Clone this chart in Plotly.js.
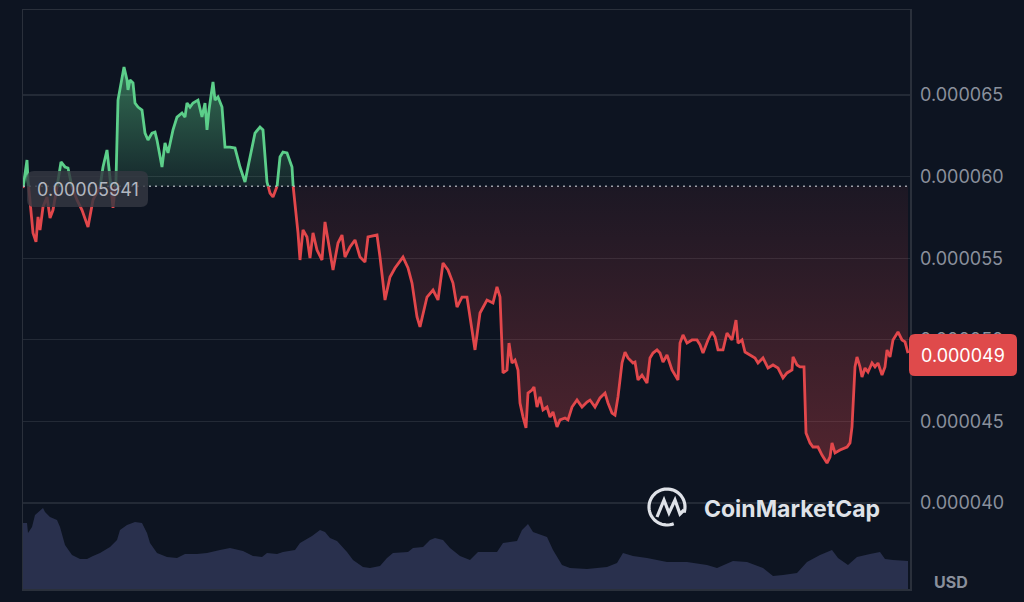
<!DOCTYPE html>
<html>
<head>
<meta charset="utf-8">
<script src="https://cdn.plot.ly/plotly-3.0.1.min.js"></script>
<style>
html,body{margin:0;padding:0;background:#0d1421;}
#chart{width:1024px;height:602px;}
</style>
</head>
<body>
<div id="chart"></div>
<script>
// Price in micro-USD (x 1e-6), time in relative steps
const times = [
  0,4,5,7,10,13,15,17,20,24,
  27,30,34,38,42,45,49,54,59,65,
  70,77,80,84,86,90,93,95,99,101,
  104,105,107,110,112,115,119,122,125,129,
  132,134,139,142,145,150,154,159,162,164,
  167,170,175,179,182,184,186,190,192,195,
  199,202,207,212,217,222,225,232,237,240,
  244,247,250,254,257,260,264,269,270,275,
  277,280,284,287,290,294,299,302,305,310,
  315,319,322,327,332,337,342,345,354,357,
  362,367,372,380,385,389,394,397,404,410,
  415,420,425,430,434,439,444,449,452,457,
  464,470,474,477,480,484,486,489,492,495,
  497,500,503,505,509,511,514,517,520,524,
  527,530,534,537,542,545,549,554,559,564,
  567,572,577,582,585,589,592,595,599,602,
  605,610,612,615,619,624,627,630,634,637,
  640,644,649,655,657,660,664,669,674,677,
  680,685,689,692,695,700,704,709,713,715,
  719,722,727,732,735,740,745,750,755,760,
  764,769,770,774,777,781,783,787,790,795,
  799,804,807,809,812,817,824,827,829,832,
  834,837,839,842,845,849,852,855,859,862,
  864,867,870,875,879,882,885
];
const priceMicro = [
  59.30,61.02,59.79,58.57,56.55,56.00,57.53,56.73,58.14,58.75,
  57.46,57.95,59.36,60.90,60.59,60.53,59.36,58.57,57.95,56.91,
  58.57,59.36,60.59,61.63,60.59,58.08,59.79,64.69,66.10,66.71,
  65.92,65.31,65.92,65.74,64.51,64.26,64.08,62.67,62.24,62.67,
  62.73,62.24,60.59,62.06,61.45,62.86,63.65,63.90,63.65,64.51,
  64.26,64.51,64.69,63.65,64.51,62.86,64.08,65.80,64.69,64.88,
  64.26,61.81,61.81,61.75,60.59,59.67,60.59,62.67,63.04,62.86,
  59.67,58.99,58.75,59.36,61.20,61.51,61.45,60.59,59.49,56.55,
  54.89,56.73,56.30,55.01,56.55,55.50,54.89,57.22,56.12,54.28,
  55.93,56.42,55.07,55.69,56.12,55.07,54.77,56.30,56.42,55.07,
  52.44,53.85,54.40,55.07,54.40,53.48,51.40,50.79,52.62,53.05,
  52.44,54.71,54.28,53.48,52.01,52.62,52.62,50.42,49.38,51.64,
  52.44,52.26,53.24,52.62,47.97,48.15,49.80,48.58,48.76,48.15,
  46.13,45.27,44.60,46.74,46.92,47.11,45.88,46.50,45.70,45.88,
  45.27,45.58,44.66,45.09,45.21,45.09,45.88,46.31,45.88,46.19,
  46.31,45.88,46.44,46.74,46.13,45.51,45.39,46.50,48.58,49.25,
  48.89,48.58,48.64,47.54,47.84,47.35,48.89,49.19,49.38,49.19,
  48.64,49.07,48.15,47.54,49.80,50.30,49.80,49.99,49.99,49.69,
  49.19,49.99,50.48,50.17,49.38,49.38,50.42,49.99,51.21,49.80,
  49.99,49.25,49.07,48.89,48.58,48.89,48.27,48.46,48.27,47.66,
  47.97,48.15,48.95,48.46,48.34,48.34,44.29,43.68,43.43,43.43,
  42.94,42.45,42.82,43.68,43.07,43.25,43.43,43.68,44.66,48.34,
  48.95,48.34,47.72,48.27,48.03,48.58,48.34,48.58,47.84,48.34,
  49.38,48.95,49.99,50.48,49.99,49.87,49.19
];
const volTimes = [0,4,5,9,12,17,20,22,27,34,37,42,49,57,64,70,77,87,94,97,104,112,119,124,127,134,144,154,162,174,184,197,207,220,230,239,244,254,260,272,277,289,297,302,307,314,324,330,340,347,357,364,370,385,390,400,407,412,420,427,437,447,455,474,480,494,499,505,510,524,530,539,547,564,584,594,600,610,624,644,664,684,694,710,724,740,750,760,774,784,797,809,815,825,834,847,857,862,870,885];
const volume = [66,66,56,62,74,79,81,77,72,69,62,44,34,30,30,33,36,42,49,59,64,67,66,56,46,36,32,31,35,35,36,39,41,38,33,32,36,35,37,39,46,53,59,57,51,48,37,29,22,21,23,31,36,37,41,42,49,51,49,41,33,29,37,37,46,48,59,65,57,52,39,24,21,20,22,26,36,33,31,27,27,24,21,28,27,21,13,14,16,27,34,39,31,24,32,35,37,30,29,28];
const baselineMicro = 59.41;
const baselineLabel = "0.00005941";
const lastLabel = "0.000049";
const yTicks = [0.000040,0.000045,0.000050,0.000055,0.000060,0.000065];

const SCALE = 1e-6;
const base = baselineMicro*SCALE;
// insert baseline crossings so colours switch exactly at the baseline
const X=[],Y=[];
for(let i=0;i<times.length;i++){
  const p=priceMicro[i]*SCALE;
  X.push(times[i]);Y.push(p);
  if(i<times.length-1){
    const q=priceMicro[i+1]*SCALE;
    if((p-base)*(q-base)<0){
      const tc=times[i]+(base-p)/(q-p)*(times[i+1]-times[i]);
      X.push(tc);Y.push(base);
    }
  }
}
const baseArr=X.map(()=>base);
const up=Y.map(v=>Math.max(v,base));
const dn=Y.map(v=>Math.min(v,base));
const gLine=Y.map(v=>v>=base?v:null);
const rLine=Y.map(v=>v<=base?v:null);
const GREEN='#5ccf8a', RED='#e2474b';
const maxP=Math.max(...priceMicro)*SCALE, minP=Math.min(...priceMicro)*SCALE;

const traces=[
  {x:volTimes,y:volume,type:'scatter',mode:'lines',line:{width:0,color:'#29304d'},fill:'tozeroy',fillcolor:'#29304d',yaxis:'y2',hoverinfo:'skip'},
  {x:X,y:baseArr,type:'scatter',mode:'lines',line:{width:0},hoverinfo:'skip'},
  {x:X,y:up,type:'scatter',mode:'lines',line:{width:0},fill:'tonexty',
   fillgradient:{type:'vertical',start:base,stop:maxP,colorscale:[[0,'rgba(92,207,138,0.10)'],[1,'rgba(92,207,138,0.48)']]},hoverinfo:'skip'},
  {x:X,y:baseArr,type:'scatter',mode:'lines',line:{width:0},hoverinfo:'skip'},
  {x:X,y:dn,type:'scatter',mode:'lines',line:{width:0},fill:'tonexty',
   fillgradient:{type:'vertical',start:minP,stop:base,colorscale:[[0,'rgba(226,71,75,0.32)'],[1,'rgba(226,71,75,0.07)']]},hoverinfo:'skip'},
  {x:X,y:rLine,type:'scatter',mode:'lines',line:{width:2.8,color:RED},connectgaps:false,hoverinfo:'skip'},
  {x:X,y:gLine,type:'scatter',mode:'lines',line:{width:2.8,color:GREEN},connectgaps:false,hoverinfo:'skip'}
];

// decoration helpers (pixel -> paper)
const L=23,R=910,T=10,B=589;
const px=x=>(x-L)/(R-L), py=y=>(B-y)/(B-T);
function rrect(x0,y0,x1,y1,r){
  const P=(x,y)=>px(x)+','+py(y);
  return 'M'+P(x0+r,y0)+' L'+P(x1-r,y0)+' Q'+P(x1,y0)+' '+P(x1,y0+r)+
    ' L'+P(x1,y1-r)+' Q'+P(x1,y1)+' '+P(x1-r,y1)+' L'+P(x0+r,y1)+
    ' Q'+P(x0,y1)+' '+P(x0,y1-r)+' L'+P(x0,y0+r)+' Q'+P(x0,y0)+' '+P(x0+r,y0)+' Z';
}
function arcPath(cx,cy,r,a0,a1,n){
  let s='';
  for(let i=0;i<=n;i++){
    const a=(a0+(a1-a0)*i/n)*Math.PI/180;
    const x=cx+r*Math.cos(a), y=cy-r*Math.sin(a);
    s+=(i?' L':'M')+px(x)+','+py(y);
  }
  return s;
}
function poly(pts){return pts.map((p,i)=>(i?' L':'M')+px(p[0])+','+py(p[1])).join('');}
const LOGO='#dfe2e8';
const shapes=[
  {type:'line',xref:'x',yref:'y',x0:0,x1:887,y0:base,y1:base,line:{color:'rgba(200,204,212,0.75)',width:1.6,dash:'2px,4px'},layer:'above'},
  {type:'path',xref:'paper',yref:'paper',path:rrect(27,171,148,207,7),fillcolor:'rgba(52,56,66,0.82)',line:{width:0},layer:'above'},
  {type:'path',xref:'paper',yref:'paper',path:rrect(909,334,1017,376,6),fillcolor:'#df4a4b',line:{width:0},layer:'above'},
  {type:'path',xref:'paper',yref:'paper',path:arcPath(667,507,18,-18,292,48),line:{color:LOGO,width:3.2},layer:'above'},
  {type:'path',xref:'paper',yref:'paper',path:poly([[657,517],[664,500],[669,513],[675,500],[680,514],[684,510]]),line:{color:LOGO,width:3.2},layer:'above'}
];
const C={xanchor:'center',yanchor:'middle',showarrow:false,xref:'paper',yref:'paper'};
const annotations=[
  Object.assign({x:px(88),y:py(189),text:baselineLabel,font:{family:'Inter',size:18,color:'#b2b7c0'}},C),
  Object.assign({x:px(963),y:py(355),text:lastLabel,font:{family:'Inter',size:18,color:'#ffffff'}},C),
  Object.assign({x:px(951),y:py(582),text:'<b>USD</b>',font:{family:'Inter',size:16,color:'#8a909c'}},C),
  Object.assign({x:px(792),y:py(509),text:'<b>CoinMarketCap</b>',font:{family:'Inter',size:23,color:LOGO}},C)
];

const layout={
  width:1024,height:602,
  margin:{l:L,r:1024-R,t:T,b:602-B,pad:0},
  paper_bgcolor:'#0d1421',plot_bgcolor:'#0d1421',
  showlegend:false,hovermode:false,
  xaxis:{range:[0,887],showgrid:false,zeroline:false,showticklabels:false,ticks:'',showline:true,mirror:true,linecolor:'#2a303b',linewidth:1.5,fixedrange:true},
  yaxis:{range:[34.73e-6,70.21e-6],side:'right',tickvals:yTicks,tickformat:'.6f',showgrid:true,gridcolor:'#232a36',gridwidth:1.2,zeroline:false,
    showline:true,mirror:true,linecolor:'#2a303b',linewidth:1.5,ticks:'',ticklabelstandoff:5,
    tickfont:{family:'Inter',size:18,color:'#8a909c'},fixedrange:true},
  yaxis2:{overlaying:'y',range:[0,579],visible:false,fixedrange:true},
  shapes:shapes,annotations:annotations
};
Plotly.newPlot('chart',traces,layout,{displayModeBar:false,staticPlot:true});
</script>
</body>
</html>
